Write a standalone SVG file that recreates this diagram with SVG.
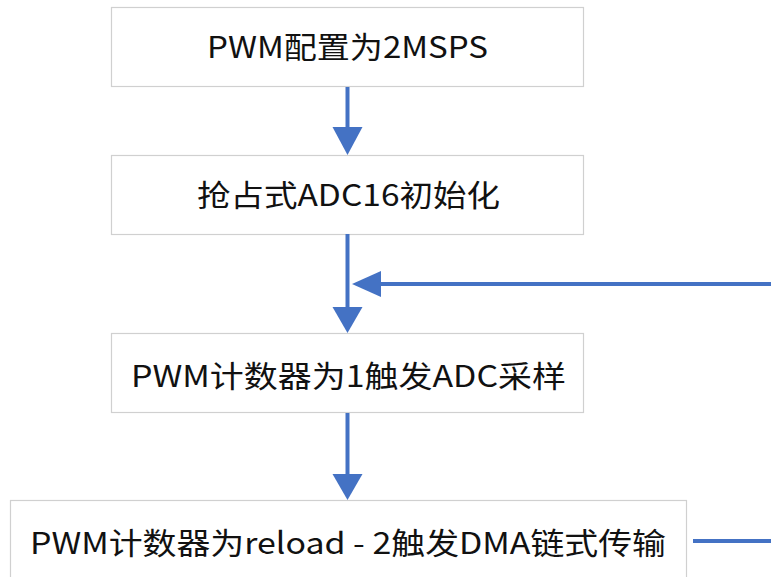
<svg xmlns="http://www.w3.org/2000/svg" width="771" height="577" viewBox="0 0 771 577">
<style>
.box{fill:#fff;stroke:#d0d0d0;stroke-width:1.2}
.t{font-family:"Noto Sans CJK SC","Noto Sans",sans-serif;font-size:30px;fill:#111;text-anchor:middle}
.ln{stroke:#4472c4;stroke-width:4;fill:none}
.hd{fill:#4472c4}
</style>
<rect width="771" height="577" fill="#fff"/>
<g id="n1"><rect class="box" x="111.5" y="7.5" width="472" height="79"/><text class="t" x="347.5" y="58" textLength="281" lengthAdjust="spacingAndGlyphs">PWM配置为2MSPS</text></g>
<g id="n2"><rect class="box" x="111.5" y="155.5" width="472" height="79"/><text class="t" x="348.5" y="206" textLength="303" lengthAdjust="spacingAndGlyphs">抢占式ADC16初始化</text></g>
<g id="n3"><rect class="box" x="111.5" y="333.5" width="472" height="79"/><text class="t" x="348.5" y="387" textLength="435" lengthAdjust="spacingAndGlyphs">PWM计数器为1触发ADC采样</text></g>
<g id="n4"><rect class="box" x="10.5" y="500.5" width="676" height="90"/><text class="t" x="348" y="554" textLength="636" lengthAdjust="spacingAndGlyphs">PWM计数器为reload - 2触发DMA链式传输</text></g>
<g id="connectors">
<line class="ln" x1="347.5" y1="87" x2="347.5" y2="128"/><polygon class="hd" points="332.5,127 362.5,127 347.5,155"/>
<line class="ln" x1="347.5" y1="234" x2="347.5" y2="309"/><polygon class="hd" points="332.5,307 362.5,307 347.5,333"/>
<line class="ln" x1="771" y1="284" x2="378" y2="284"/><polygon class="hd" points="381,271 381,297 352,284"/>
<line class="ln" x1="347.5" y1="413" x2="347.5" y2="476"/><polygon class="hd" points="332.5,474 362.5,474 347.5,500"/>
<line class="ln" x1="693" y1="541" x2="771" y2="541"/>
</g>
</svg>
